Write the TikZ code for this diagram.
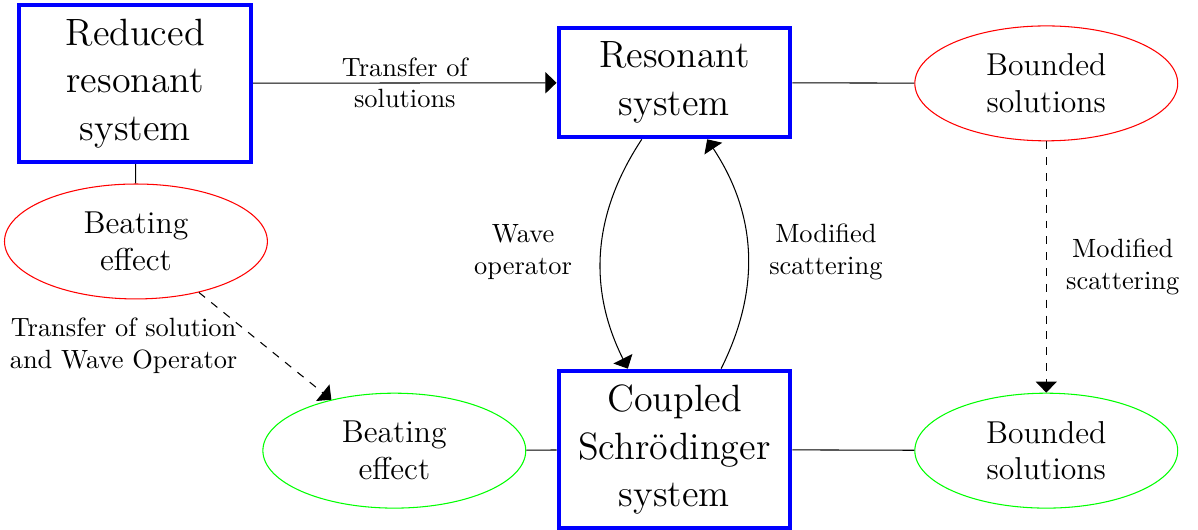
\documentclass[tikz,border=0pt]{standalone}
\usepackage{amsmath,amssymb}
\usepackage{xcolor}
\usetikzlibrary{shapes.geometric,arrows.meta}
\begin{document}
\begin{tikzpicture}
\useasboundingbox (0,-7.045) rectangle (15.95,0);
\tikzstyle{sys}=[draw=blue, ultra thick, text width=2.85cm, inner ysep=5.3pt,
                 align=center, font=\Large]
\tikzstyle{sol}=[ellipse, draw, thin, minimum width=3.5cm, minimum height=1.53cm,
                 align=center, font=\large]
\tikzstyle{tip}=[-{Triangle[length=4.2pt,width=8pt]}]
\node[sys] (A) at (1.8,-1.11) {Reduced\\resonant\\system};
\node[sys] (B) at (8.98,-1.1) {Resonant\\system};
\node[sys] (F) at (8.98,-5.985) {Coupled\\Schr\"odinger\\system};
\node[sol, draw=red] (C) at (13.93,-1.11) {Bounded\\solutions};
\node[sol, draw=red] (D) at (1.81,-3.215) {Beating\\effect};
\node[sol, draw=green] (E) at (5.25,-6) {Beating\\effect};
\node[sol, draw=green] (G) at (13.93,-6) {Bounded\\solutions};
\foreach \i/\j in {A/D, B/C, E/F, F/G}{\draw (\i) -- (\j);}
\draw[tip] (A) -- node[align=center] {Transfer of\\solutions} (B);
\draw[tip] (B) to[bend right=30] node[midway, xshift=-1.04cm, align=center] {Wave\\operator} (F);
\draw[tip] (F) to[bend right=30] node[midway, xshift=1.04cm, align=center] {Modified\\scattering} (B);
\draw[tip, dashed] (D) -- node[left=7pt, align=center] {Transfer of solution\\and Wave Operator} (E);
\draw[tip, dashed] (C) -- node[right=4pt, align=center] {Modified\\scattering} (G);
\end{tikzpicture}
\end{document}
